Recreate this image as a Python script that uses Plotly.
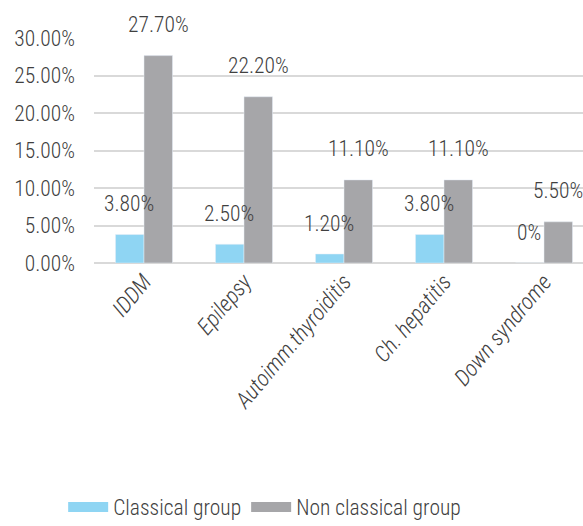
import plotly.graph_objects as go

categories = ["IDDM", "Epilepsy", "Autoimm.thyroiditis", "Ch. hepatitis", "Down syndrome"]
classical = [0.038, 0.025, 0.012, 0.038, 0.0]
non_classical = [0.277, 0.222, 0.111, 0.111, 0.055]
classical_labels = ["3.80%", "2.50%", "1.20%", "3.80%", "0%"]
non_classical_labels = ["27.70%", "22.20%", "11.10%", "11.10%", "5.50%"]
series_names = ["Classical group", "Non classical group"]
colors = ["#8fd5f3", "#a6a6a9"]

FONT = "Roboto Condensed"
TXT = "#404040"
FS = 21.5
W = 300

fig = go.Figure()
fig.add_bar(x=categories, y=classical, marker_color=colors[0], name=series_names[0],
            showlegend=False, offsetgroup="a")
fig.add_bar(x=categories, y=non_classical, marker_color=colors[1], name=series_names[1],
            showlegend=False, offsetgroup="b")
for nm, c in zip(series_names, colors):
    fig.add_scatter(x=[None], y=[None], mode="lines", line=dict(color=c, width=15), name=nm)

annotations = []
for i, cat in enumerate(categories):
    annotations.append(dict(x=cat, y=classical[i], text=classical_labels[i], xshift=-15, yshift=31,
                            showarrow=False, font=dict(family=FONT, size=FS, color=TXT, weight=W)))
    annotations.append(dict(x=cat, y=non_classical[i], text=non_classical_labels[i], xshift=14, yshift=31,
                            showarrow=False, font=dict(family=FONT, size=FS, color=TXT, weight=W)))

fig.update_layout(
    width=583, height=526,
    margin=dict(l=94, r=0, t=38, b=263, autoexpand=False),
    plot_bgcolor="white", paper_bgcolor="white",
    bargap=0.43, bargroupgap=0,
    annotations=annotations,
    font=dict(family=FONT, size=FS, color=TXT, weight=W),
    legend=dict(orientation="h", x=0.349, xanchor="center", y=-1.085, yanchor="middle",
                font=dict(family=FONT, size=FS, color=TXT, weight=W), itemwidth=40),
)
fig.update_xaxes(range=[-0.5, 4.39], tickangle=-50, automargin=False,
                 tickfont=dict(family=FONT, size=22.5, color=TXT, style="italic", weight=W),
                 showline=False, showgrid=False, ticks="")
fig.update_yaxes(range=[0, 0.3005], dtick=0.05, tickformat=".2%", automargin=False,
                 gridcolor="#d9d9d9", gridwidth=1.5, zeroline=True, zerolinecolor="#d9d9d9",
                 zerolinewidth=1.5, ticklabelstandoff=18,
                 tickfont=dict(family=FONT, size=FS, color=TXT, weight=W))

fig.write_html("out.html")
